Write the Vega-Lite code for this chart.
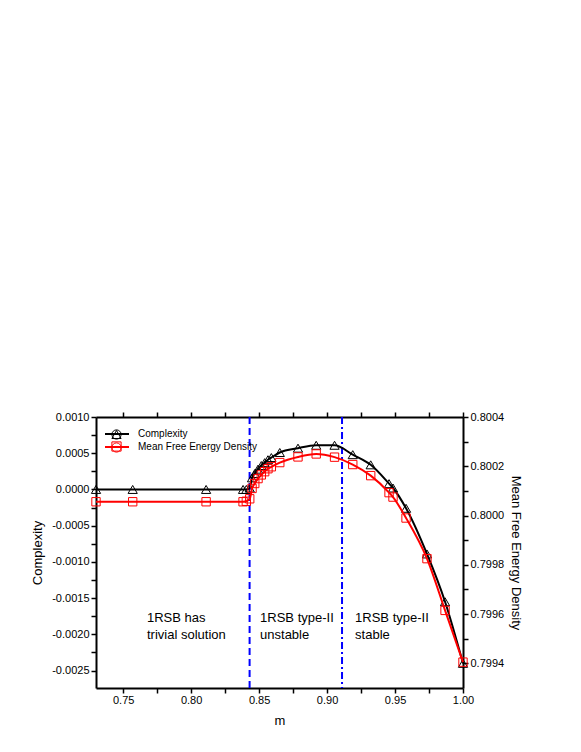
{
  "$schema": "https://vega.github.io/schema/vega-lite/v6.json",
  "width": 367,
  "height": 271,
  "autosize": {"type": "none"},
  "padding": {"left": 96, "top": 417, "right": 118, "bottom": 64},
  "background": "white",
  "config": {
    "font": "Liberation Sans",
    "view": {"stroke": null},
    "axis": {
      "grid": false,
      "domainColor": "black",
      "domainWidth": 2,
      "tickColor": "black",
      "tickWidth": 1.5,
      "tickSize": 5,
      "labelPadding": 2,
      "labelColor": "black",
      "labelFont": "Liberation Sans",
      "labelFontSize": 11,
      "labelOverlap": false,
      "labelFlush": false,
      "titleColor": "black",
      "titleFont": "Liberation Sans",
      "titleFontSize": 13,
      "titleFontWeight": "normal"
    },
    "legend": {"labelFont": "Liberation Sans", "labelColor": "black"}
  },
  "datasets": {
    "curves": [
      {"m": 0.730, "complexity": 0, "mfed": 0.800056},
      {"m": 0.757, "complexity": 0, "mfed": 0.800056},
      {"m": 0.811, "complexity": 0, "mfed": 0.800056},
      {"m": 0.8382, "complexity": 0, "mfed": 0.800056},
      {"m": 0.8406, "complexity": 0, "mfed": 0.800058},
      {"m": 0.8431, "complexity": 0.00002, "mfed": 0.800068},
      {"m": 0.8448, "complexity": 0.00016, "mfed": 0.80011},
      {"m": 0.8468, "complexity": 0.00022, "mfed": 0.80013},
      {"m": 0.8492, "complexity": 0.00028, "mfed": 0.80015},
      {"m": 0.8516, "complexity": 0.00033, "mfed": 0.800165},
      {"m": 0.8541, "complexity": 0.00037, "mfed": 0.800178},
      {"m": 0.8565, "complexity": 0.00041, "mfed": 0.80019},
      {"m": 0.859, "complexity": 0.00044, "mfed": 0.800198},
      {"m": 0.8652, "complexity": 0.00051, "mfed": 0.800215},
      {"m": 0.8786, "complexity": 0.00057, "mfed": 0.800238},
      {"m": 0.892, "complexity": 0.00061, "mfed": 0.80025},
      {"m": 0.9055, "complexity": 0.00061, "mfed": 0.800237},
      {"m": 0.9189, "complexity": 0.00048, "mfed": 0.800207},
      {"m": 0.9321, "complexity": 0.00034, "mfed": 0.800162},
      {"m": 0.9456, "complexity": 0.00008, "mfed": 0.800093},
      {"m": 0.9485, "complexity": 0.00002, "mfed": 0.800075},
      {"m": 0.9581, "complexity": -0.00026, "mfed": 0.79999},
      {"m": 0.9735, "complexity": -0.00089, "mfed": 0.799825},
      {"m": 0.9868, "complexity": -0.00155, "mfed": 0.799615},
      {"m": 1.0, "complexity": -0.0024, "mfed": 0.799405}
    ],
    "boundaries": [
      {"m": 0.843, "style": "dashed"},
      {"m": 0.911, "style": "dash-dot"}
    ],
    "notes": [
      {"m": 0.7675, "complexity": -0.00177, "note": "1RSB has\ntrivial solution"},
      {"m": 0.8507, "complexity": -0.00177, "note": "1RSB type-II\nunstable"},
      {"m": 0.9206, "complexity": -0.00177, "note": "1RSB type-II\nstable"}
    ]
  },
  "resolve": {
    "scale": {"y": "independent"},
    "axis": {"y": "independent", "x": "independent"}
  },
  "layer": [
    {
      "layer": [
        {
          "data": {"name": "boundaries"},
          "mark": {"type": "rule", "color": "#0000ff", "strokeWidth": 2},
          "encoding": {
            "x": {"field": "m", "type": "quantitative", "scale": {"domain": [0.73, 1.0], "nice": false, "zero": false},
              "axis": {"orient": "bottom", "title": "m", "titlePadding": 9, "labelPadding": 1, "values": [0.75, 0.775, 0.8, 0.825, 0.85, 0.875, 0.9, 0.925, 0.95, 0.975, 1.0],
                "labelExpr": "round(datum.value*40)%2==1 ? '' : format(datum.value, '.2f')",
                "encode": {"ticks": {"update": {"y2": {"signal": "round(datum.value*40)%2==1 ? -3 : -5"}}}}}},
            "strokeDash": {"field": "style", "type": "nominal", "scale": {"domain": ["dashed", "dash-dot"], "range": [[7, 4], [7, 3, 2, 3]]}, "legend": null}
          }
        },
        {
          "data": {"name": "curves"},
          "mark": {"type": "line", "strokeWidth": 2, "interpolate": "monotone"},
          "encoding": {
            "x": {"field": "m", "type": "quantitative", "scale": {"domain": [0.73, 1.0], "nice": false, "zero": false},
              "axis": {"orient": "bottom", "title": "m", "titlePadding": 9, "labelPadding": 1, "values": [0.75, 0.775, 0.8, 0.825, 0.85, 0.875, 0.9, 0.925, 0.95, 0.975, 1.0],
                "labelExpr": "round(datum.value*40)%2==1 ? '' : format(datum.value, '.2f')",
                "encode": {"ticks": {"update": {"y2": {"signal": "round(datum.value*40)%2==1 ? -3 : -5"}}}}}},
            "y": {"field": "complexity", "type": "quantitative", "scale": {"domain": [-0.00274, 0.001], "nice": false, "zero": false},
              "axis": {"orient": "left", "title": "Complexity", "titlePadding": 7, "values": [-0.0025, -0.00225, -0.002, -0.00175, -0.0015, -0.00125, -0.001, -0.00075, -0.0005, -0.00025, 0, 0.00025, 0.0005, 0.00075, 0.001],
                "labelExpr": "abs(round(datum.value*4000))%2==1 ? '' : replace(format(datum.value, '.4f'), '\u2212', '-')",
                "encode": {"ticks": {"update": {"x2": {"signal": "abs(round(datum.value*4000))%2==1 ? 3 : 5"}}}}}},
            "color": {"datum": "Complexity", "scale": {"domain": ["Complexity", "Mean Free Energy Density"], "range": ["#000000", "#ff0000"]},
              "legend": {"title": null, "orient": "top-left", "offset": 11, "padding": 0, "symbolType": "M-2.6,0H2.6", "symbolSize": 85, "symbolStrokeWidth": 2, "symbolOffset": 4, "labelOffset": 15, "labelFontSize": 10, "rowPadding": 2}}
          }
        },
        {
          "data": {"name": "curves"},
          "mark": {"type": "point", "filled": false, "size": 85, "strokeWidth": 1, "opacity": 1},
          "encoding": {
            "x": {"field": "m", "type": "quantitative", "scale": {"domain": [0.73, 1.0], "nice": false, "zero": false},
              "axis": {"orient": "bottom", "title": "m", "titlePadding": 9, "labelPadding": 1, "values": [0.75, 0.775, 0.8, 0.825, 0.85, 0.875, 0.9, 0.925, 0.95, 0.975, 1.0],
                "labelExpr": "round(datum.value*40)%2==1 ? '' : format(datum.value, '.2f')",
                "encode": {"ticks": {"update": {"y2": {"signal": "round(datum.value*40)%2==1 ? -3 : -5"}}}}}},
            "y": {"field": "complexity", "type": "quantitative", "scale": {"domain": [-0.00274, 0.001], "nice": false, "zero": false},
              "axis": {"orient": "left", "title": "Complexity", "titlePadding": 7, "values": [-0.0025, -0.00225, -0.002, -0.00175, -0.0015, -0.00125, -0.001, -0.00075, -0.0005, -0.00025, 0, 0.00025, 0.0005, 0.00075, 0.001],
                "labelExpr": "abs(round(datum.value*4000))%2==1 ? '' : replace(format(datum.value, '.4f'), '\u2212', '-')",
                "encode": {"ticks": {"update": {"x2": {"signal": "abs(round(datum.value*4000))%2==1 ? 3 : 5"}}}}}},
            "shape": {"datum": "Complexity", "scale": {"domain": ["Complexity", "Mean Free Energy Density"], "range": ["triangle-up", "square"]},
              "legend": {"title": null, "orient": "none", "legendX": 11, "legendY": 12, "padding": 0, "symbolSize": 85, "symbolStrokeWidth": 1, "symbolOffset": 4, "labelOffset": 15, "labelFontSize": 10, "labelOpacity": 0, "labelExpr": "''", "rowPadding": -3}},
            "stroke": {"datum": "Complexity", "scale": {"domain": ["Complexity", "Mean Free Energy Density"], "range": ["#000000", "#ff0000"]},
              "legend": {"title": null, "orient": "none", "legendX": 11, "legendY": 12, "padding": 0, "symbolSize": 85, "symbolStrokeWidth": 1, "symbolOffset": 4, "labelOffset": 15, "labelFontSize": 10, "labelOpacity": 0, "labelExpr": "''", "rowPadding": -3}}
          }
        },
        {
          "data": {"name": "notes"},
          "mark": {"type": "text", "align": "left", "baseline": "middle", "fontSize": 13, "lineHeight": 17, "lineBreak": "\n", "color": "black", "font": "Liberation Sans"},
          "encoding": {
            "x": {"field": "m", "type": "quantitative", "scale": {"domain": [0.73, 1.0], "nice": false, "zero": false},
              "axis": {"orient": "bottom", "title": "m", "titlePadding": 9, "labelPadding": 1, "values": [0.75, 0.775, 0.8, 0.825, 0.85, 0.875, 0.9, 0.925, 0.95, 0.975, 1.0],
                "labelExpr": "round(datum.value*40)%2==1 ? '' : format(datum.value, '.2f')",
                "encode": {"ticks": {"update": {"y2": {"signal": "round(datum.value*40)%2==1 ? -3 : -5"}}}}}},
            "y": {"field": "complexity", "type": "quantitative", "scale": {"domain": [-0.00274, 0.001], "nice": false, "zero": false},
              "axis": {"orient": "left", "title": "Complexity", "titlePadding": 7, "values": [-0.0025, -0.00225, -0.002, -0.00175, -0.0015, -0.00125, -0.001, -0.00075, -0.0005, -0.00025, 0, 0.00025, 0.0005, 0.00075, 0.001],
                "labelExpr": "abs(round(datum.value*4000))%2==1 ? '' : replace(format(datum.value, '.4f'), '\u2212', '-')",
                "encode": {"ticks": {"update": {"x2": {"signal": "abs(round(datum.value*4000))%2==1 ? 3 : 5"}}}}}},
            "text": {"field": "note", "type": "nominal"}
          }
        }
      ]
    },
    {
      "layer": [
        {
          "data": {"name": "curves"},
          "mark": {"type": "line", "strokeWidth": 2, "interpolate": "monotone"},
          "encoding": {
            "x": {"field": "m", "type": "quantitative", "scale": {"domain": [0.73, 1.0], "nice": false, "zero": false},
              "axis": {"orient": "top", "title": null, "labels": false, "values": [0.75, 0.775, 0.8, 0.825, 0.85, 0.875, 0.9, 0.925, 0.95, 0.975, 1.0],
                "encode": {"ticks": {"update": {"y2": {"signal": "round(datum.value*40)%2==1 ? 3 : 5"}}}}}},
            "y": {"field": "mfed", "type": "quantitative", "scale": {"domain": [0.7993, 0.8004], "nice": false, "zero": false},
              "axis": {"orient": "right", "title": "Mean Free Energy Density", "titlePadding": 5, "values": [0.7994, 0.7995, 0.7996, 0.7997, 0.7998, 0.7999, 0.8, 0.8001, 0.8002, 0.8003, 0.8004],
                "labelExpr": "round(datum.value*10000)%2==1 ? '' : format(datum.value, '.4f')",
                "encode": {"ticks": {"update": {"x2": {"signal": "round(datum.value*10000)%2==1 ? -3 : -5"}}}}}},
            "color": {"datum": "Mean Free Energy Density", "scale": {"domain": ["Complexity", "Mean Free Energy Density"], "range": ["#000000", "#ff0000"]},
              "legend": {"title": null, "orient": "top-left", "offset": 11, "padding": 0, "symbolType": "M-2.6,0H2.6", "symbolSize": 85, "symbolStrokeWidth": 2, "symbolOffset": 4, "labelOffset": 15, "labelFontSize": 10, "rowPadding": 2}}
          }
        },
        {
          "data": {"name": "curves"},
          "mark": {"type": "point", "filled": false, "size": 70, "strokeWidth": 1, "opacity": 1},
          "encoding": {
            "x": {"field": "m", "type": "quantitative", "scale": {"domain": [0.73, 1.0], "nice": false, "zero": false},
              "axis": {"orient": "top", "title": null, "labels": false, "values": [0.75, 0.775, 0.8, 0.825, 0.85, 0.875, 0.9, 0.925, 0.95, 0.975, 1.0],
                "encode": {"ticks": {"update": {"y2": {"signal": "round(datum.value*40)%2==1 ? 3 : 5"}}}}}},
            "y": {"field": "mfed", "type": "quantitative", "scale": {"domain": [0.7993, 0.8004], "nice": false, "zero": false},
              "axis": {"orient": "right", "title": "Mean Free Energy Density", "titlePadding": 5, "values": [0.7994, 0.7995, 0.7996, 0.7997, 0.7998, 0.7999, 0.8, 0.8001, 0.8002, 0.8003, 0.8004],
                "labelExpr": "round(datum.value*10000)%2==1 ? '' : format(datum.value, '.4f')",
                "encode": {"ticks": {"update": {"x2": {"signal": "round(datum.value*10000)%2==1 ? -3 : -5"}}}}}},
            "shape": {"datum": "Mean Free Energy Density", "scale": {"domain": ["Complexity", "Mean Free Energy Density"], "range": ["triangle-up", "square"]},
              "legend": {"title": null, "orient": "none", "legendX": 11, "legendY": 12, "padding": 0, "symbolSize": 85, "symbolStrokeWidth": 1, "symbolOffset": 4, "labelOffset": 15, "labelFontSize": 10, "labelOpacity": 0, "labelExpr": "''", "rowPadding": -3}},
            "stroke": {"datum": "Mean Free Energy Density", "scale": {"domain": ["Complexity", "Mean Free Energy Density"], "range": ["#000000", "#ff0000"]},
              "legend": {"title": null, "orient": "none", "legendX": 11, "legendY": 12, "padding": 0, "symbolSize": 85, "symbolStrokeWidth": 1, "symbolOffset": 4, "labelOffset": 15, "labelFontSize": 10, "labelOpacity": 0, "labelExpr": "''", "rowPadding": -3}}
          }
        }
      ]
    }
  ]
}
